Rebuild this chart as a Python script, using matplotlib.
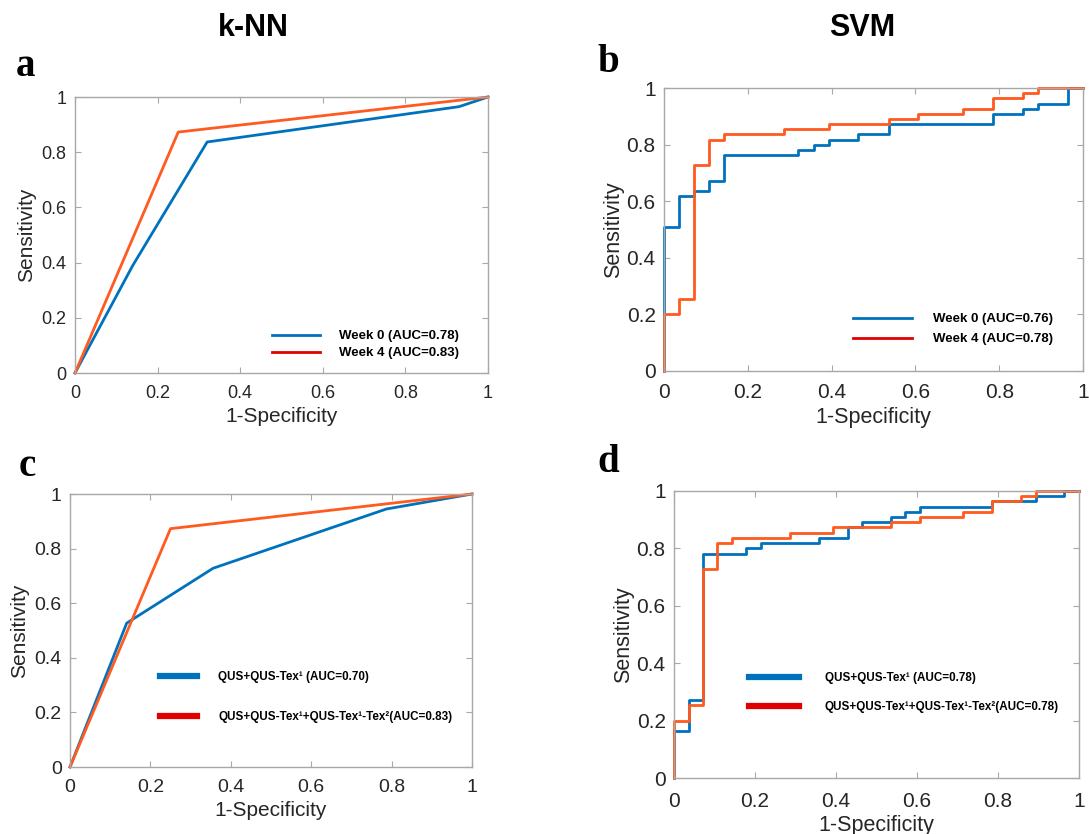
import matplotlib
matplotlib.use("Agg")
import matplotlib.pyplot as plt
from matplotlib.lines import Line2D

plt.rcParams["font.family"] = ["Liberation Sans", "DejaVu Sans"]

BLUE = "#0072BD"
ORANGE = "#FF5A1F"
LEG_RED = "#E00000"
FRAME = "#A8A8A8"

# ---- panel a: k-NN, week 0 vs week 4 ----
a_fpr_w0 = [0, 0.14, 0.32, 0.93, 1]
a_tpr_w0 = [0, 0.39, 0.837, 0.965, 1]
a_fpr_w4 = [0, 0.25, 1]
a_tpr_w4 = [0, 0.873, 1]
a_labels = ["Week 0 (AUC=0.78)", "Week 4 (AUC=0.83)"]

# ---- panel b: SVM, week 0 vs week 4 (step ROC, jump x / new y) ----
b_fpr_w0 = [0, 0, 0.036, 0.071, 0.107, 0.143, 0.321, 0.357, 0.393, 0.464, 0.536, 0.786, 0.857, 0.893, 0.964, 1]
b_tpr_w0 = [0, 0.509, 0.618, 0.636, 0.673, 0.764, 0.782, 0.800, 0.818, 0.836, 0.873, 0.909, 0.927, 0.945, 1.0, 1.0]
b_fpr_w4 = [0, 0, 0.036, 0.071, 0.107, 0.143, 0.286, 0.393, 0.536, 0.607, 0.714, 0.786, 0.857, 0.893, 1]
b_tpr_w4 = [0, 0.2, 0.255, 0.727, 0.818, 0.836, 0.855, 0.873, 0.891, 0.909, 0.927, 0.964, 0.982, 1.0, 1.0]
b_labels = ["Week 0 (AUC=0.76)", "Week 4 (AUC=0.78)"]

# ---- panel c: k-NN, feature sets ----
c_fpr_1 = [0, 0.141, 0.356, 0.787, 1]
c_tpr_1 = [0, 0.527, 0.728, 0.945, 1]
c_fpr_2 = [0, 0.25, 1]
c_tpr_2 = [0, 0.873, 1]
c_labels = ["QUS+QUS-Tex\u00b9 (AUC=0.70)",
            "QUS+QUS-Tex\u00b9+QUS-Tex\u00b9-Tex\u00b2(AUC=0.83)"]

# ---- panel d: SVM, feature sets ----
d_fpr_1 = [0, 0, 0.036, 0.071, 0.179, 0.214, 0.357, 0.429, 0.464, 0.536, 0.571, 0.607, 0.786, 0.893, 0.964, 1]
d_tpr_1 = [0, 0.164, 0.273, 0.782, 0.800, 0.818, 0.836, 0.873, 0.891, 0.909, 0.927, 0.945, 0.964, 0.982, 1.0, 1.0]
d_fpr_2 = [0, 0, 0.036, 0.071, 0.107, 0.143, 0.286, 0.393, 0.536, 0.607, 0.714, 0.786, 0.857, 0.893, 1]
d_tpr_2 = [0, 0.2, 0.255, 0.727, 0.818, 0.836, 0.855, 0.873, 0.891, 0.909, 0.927, 0.964, 0.982, 1.0, 1.0]
d_labels = ["QUS+QUS-Tex\u00b9 (AUC=0.78)",
            "QUS+QUS-Tex\u00b9+QUS-Tex\u00b9-Tex\u00b2(AUC=0.78)"]

ticks = [0, 0.2, 0.4, 0.6, 0.8, 1]
tick_labels = ["0", "0.2", "0.4", "0.6", "0.8", "1"]

W, H = 1089, 834
fig = plt.figure(figsize=(W / 100, H / 100), dpi=100)


def px_axes(left, right, top, bottom):
    return fig.add_axes([left / W, 1 - bottom / H, (right - left) / W, (bottom - top) / H])


def style(ax, fs_tick, fs_label, xpad, ylabelpad):
    ax.set_xlim(0, 1)
    ax.set_ylim(0, 1)
    ax.set_xticks(ticks)
    ax.set_yticks(ticks)
    ax.set_xticklabels(tick_labels)
    ax.set_yticklabels(tick_labels)
    ax.tick_params(direction="in", top=True, right=True, length=4, width=0.8,
                   color=FRAME, labelsize=fs_tick, labelcolor="#262626")
    ax.tick_params(axis="x", pad=xpad)
    ax.tick_params(axis="y", pad=6)
    for s in ax.spines.values():
        s.set_color(FRAME)
        s.set_linewidth(1.0)
    ax.set_xlabel("1-Specificity", fontsize=fs_label, color="#262626", labelpad=3)
    ax.set_ylabel("Sensitivity", fontsize=fs_label, color="#262626", labelpad=ylabelpad)


def legend(ax, labels, anchor, fs, hlen, lw, gap, spacing):
    handles = [Line2D([], [], color=BLUE, lw=lw), Line2D([], [], color=LEG_RED, lw=lw)]
    ax.legend(handles, labels, loc="upper left", bbox_to_anchor=anchor, frameon=False,
              borderpad=0, borderaxespad=0, handlelength=hlen, handletextpad=gap,
              labelspacing=spacing, prop={"weight": "bold", "size": fs})


# a
ax = px_axes(75, 488, 97, 373)
ax.plot(a_fpr_w0, a_tpr_w0, color=BLUE, lw=2, clip_on=False)
ax.plot(a_fpr_w4, a_tpr_w4, color=ORANGE, lw=2, clip_on=False)
style(ax, 13, 15, 9, 4)
legend(ax, a_labels, (0.477, 0.155), 9.5, 3.6, 2, 1.5, 0.35)

# b
ax = px_axes(664, 1083, 88, 371)
ax.plot(b_fpr_w0, b_tpr_w0, color=BLUE, lw=2, drawstyle="steps-post", clip_on=False)
ax.plot(b_fpr_w4, b_tpr_w4, color=ORANGE, lw=2, drawstyle="steps-post", clip_on=False)
style(ax, 15, 15.5, 9, 2)
legend(ax, b_labels, (0.451, 0.205), 9.5, 4.5, 2, 1.6, 0.6)

# c
ax = px_axes(70, 472, 494, 767)
ax.plot(c_fpr_1, c_tpr_1, color=BLUE, lw=2, clip_on=False)
ax.plot(c_fpr_2, c_tpr_2, color=ORANGE, lw=2, clip_on=False)
style(ax, 14, 15, 9, 4)
legend(ax, c_labels, (0.224, 0.35), 8.4, 3.2, 4.5, 1.8, 2.4)

# d
ax = px_axes(674, 1079, 491, 778)
ax.plot(d_fpr_1, d_tpr_1, color=BLUE, lw=2, drawstyle="steps-post", clip_on=False)
ax.plot(d_fpr_2, d_tpr_2, color=ORANGE, lw=2, drawstyle="steps-post", clip_on=False)
style(ax, 15, 15.5, 10, 2)
legend(ax, d_labels, (0.185, 0.37), 8.4, 4.3, 4.5, 2.2, 1.5)

# column titles and panel letters
fig.text(253 / W, 1 - 28 / H, "k-NN", ha="center", va="center", fontsize=22, fontweight="bold")
fig.text(862 / W, 1 - 28 / H, "SVM", ha="center", va="center", fontsize=22, fontweight="bold")
for letter, x, y in [("a", 16, 66), ("b", 597, 62), ("c", 19, 466), ("d", 597, 462)]:
    fig.text(x / W, 1 - y / H, letter, ha="left", va="center", fontsize=28,
             fontweight="bold", family=["Liberation Serif", "DejaVu Serif"])

fig.savefig("out.png", dpi=100, facecolor="white")
